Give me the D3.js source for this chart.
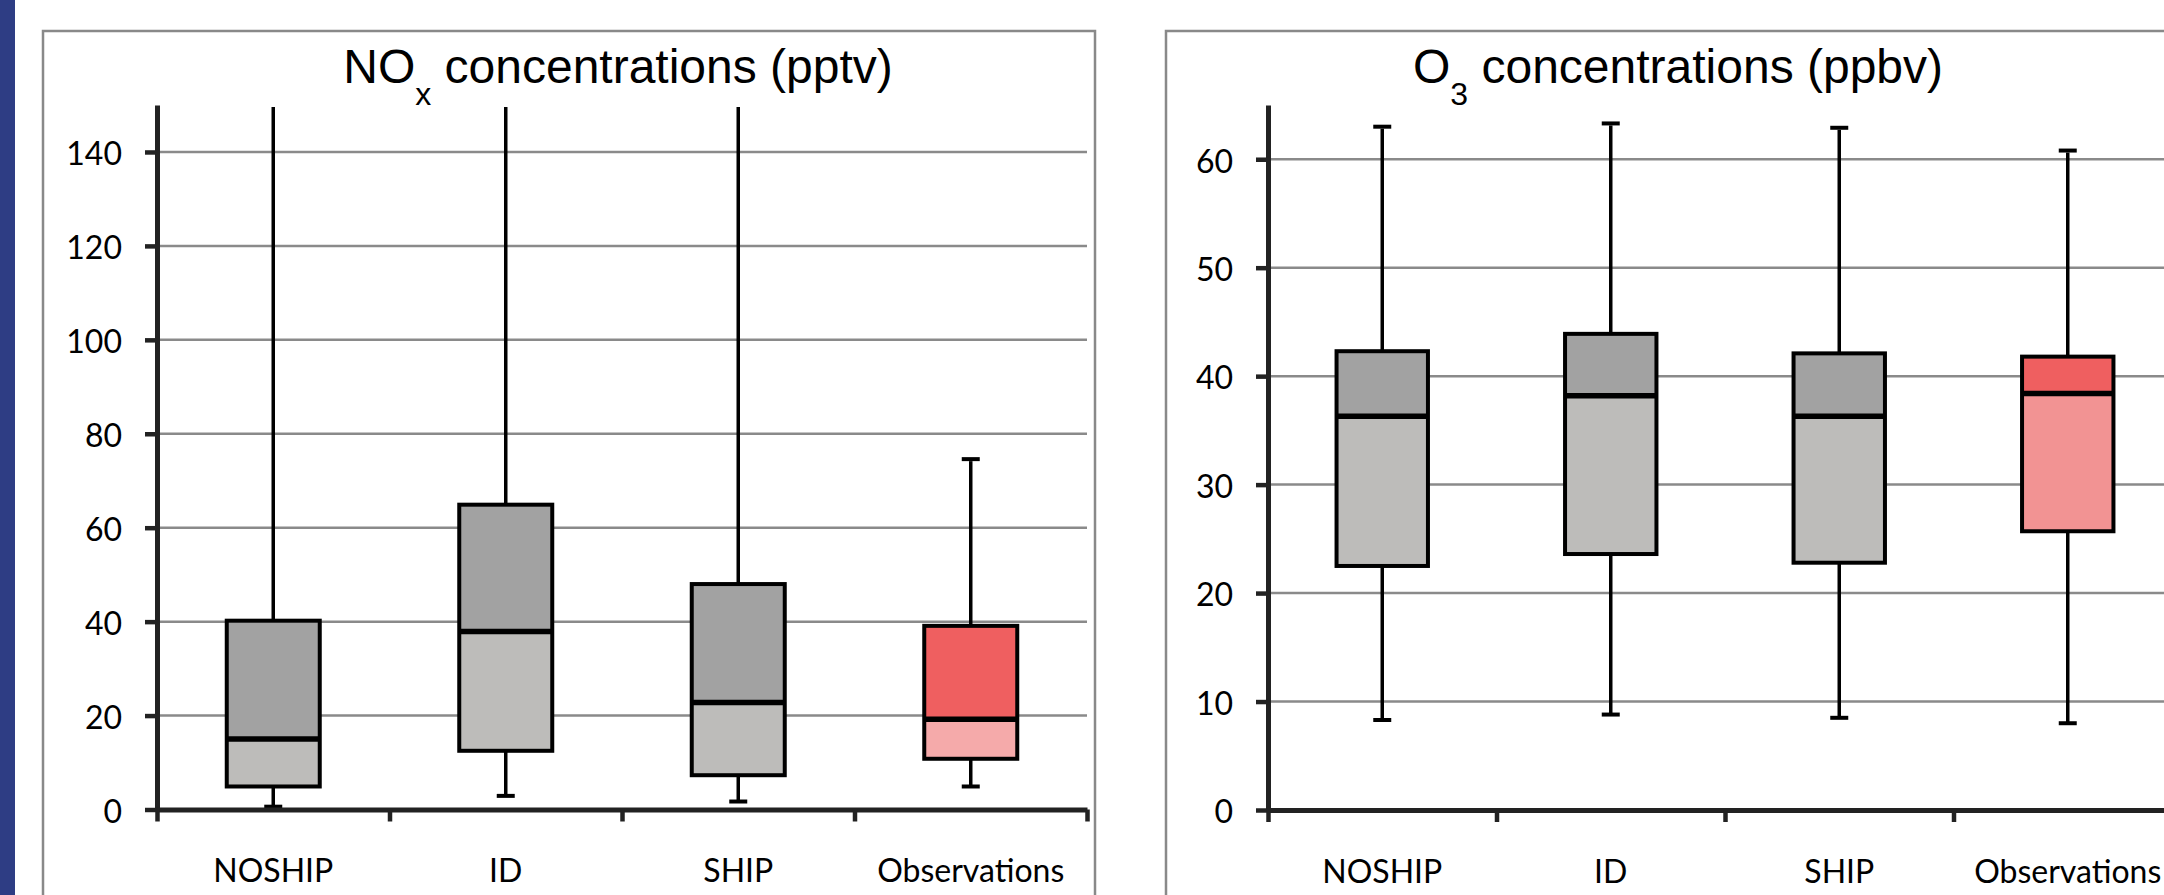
<!DOCTYPE html>
<html lang="en">
<head>
    <meta charset="UTF-8">
    <title>NOx and O3 concentrations</title>
    <style>
        html, body { margin: 0; padding: 0; background: #fff; overflow: hidden; }
    </style>
</head>
<body>

    <div id="d3-container"></div>

    <script src="https://d3js.org/d3.v7.min.js"></script>
    <script>
        // categories shared by both panels
        const categories = ["NOSHIP", "ID", "SHIP", "Observations"];

        // NOx (pptv) – the first three upper whiskers run off the top of the axis
        const noxMin = [0.6, 2.9, 1.7, 4.9];
        const noxQ1 = [4.9, 12.5, 7.3, 10.8];
        const noxMedian = [15.0, 37.9, 22.8, 19.2];
        const noxQ3 = [40.2, 64.9, 48.0, 39.1];
        const noxMax = [160, 160, 160, 74.6];
        const noxTicks = [0, 20, 40, 60, 80, 100, 120, 140];

        // O3 (ppbv)
        const o3Min = [8.3, 8.8, 8.5, 8.0];
        const o3Q1 = [22.5, 23.6, 22.8, 25.7];
        const o3Median = [36.3, 38.2, 36.3, 38.4];
        const o3Q3 = [42.3, 43.9, 42.1, 41.8];
        const o3Max = [63.0, 63.3, 62.9, 60.8];
        const o3Ticks = [0, 10, 20, 30, 40, 50, 60];

        const width = 2164;
        const height = 895;

        const svg = d3.select('#d3-container')
            .append('svg')
            .attr('width', width)
            .attr('height', height)
            .attr('viewBox', [0, 0, width, height]);

        // blue strip on the far left
        svg.append('rect')
            .attr('x', 0).attr('y', 0)
            .attr('width', 15).attr('height', height)
            .attr('fill', '#2e3d84');

        function makeRows(min, q1, med, q3, max) {
            return categories.map((c, i) => ({
                name: c, min: min[i], q1: q1[i], med: med[i], q3: q3[i], max: max[i]
            }));
        }

        function drawPanel(cfg) {
            const g = svg.append('g');

            g.append('rect')
                .attr('x', cfg.box.x).attr('y', cfg.box.y)
                .attr('width', cfg.box.w).attr('height', cfg.box.h)
                .attr('fill', '#fff')
                .attr('stroke', '#898989')
                .attr('stroke-width', 2.5);

            const x = d3.scaleBand()
                .domain(categories)
                .range([cfg.left, cfg.right])
                .padding(0);

            const xEdge = d3.scaleLinear()
                .domain([0, categories.length])
                .range([cfg.left, cfg.right]);

            const y = d3.scaleLinear()
                .domain(cfg.domain)
                .range([cfg.bottom, cfg.top])
                .clamp(true);

            // gridlines
            g.append('g')
                .selectAll('line')
                .data(cfg.ticks.filter(t => t > 0))
                .join('line')
                .attr('x1', cfg.left).attr('x2', cfg.right)
                .attr('y1', d => y(d)).attr('y2', d => y(d))
                .attr('stroke', '#8a8a8a')
                .attr('stroke-width', 2.5);

            // title with subscript
            const title = g.append('text')
                .attr('x', cfg.titleX)
                .attr('y', 83)
                .attr('text-anchor', 'middle')
                .attr('font-family', '"Liberation Sans", Arial, sans-serif')
                .attr('font-size', 48)
                .attr('fill', '#000');
            title.append('tspan').text(cfg.title[0]);
            title.append('tspan').text(cfg.title[1])
                .attr('font-size', 32).attr('dy', 22);
            title.append('tspan').text(cfg.title[2]).attr('dy', -22);

            const rows = cfg.rows;
            const bw = x.bandwidth() * 0.4;
            const cx = d => x(d.name) + x.bandwidth() / 2;
            const capW = 18;

            const boxes = g.append('g');

            // whiskers
            boxes.selectAll('.whisk-up')
                .data(rows)
                .join('line')
                .attr('class', 'whisk-up')
                .attr('x1', cx).attr('x2', cx)
                .attr('y1', d => y(d.q3)).attr('y2', d => y(d.max) + 2)
                .attr('stroke', '#000').attr('stroke-width', 3.5);
            boxes.selectAll('.whisk-down')
                .data(rows)
                .join('line')
                .attr('class', 'whisk-down')
                .attr('x1', cx).attr('x2', cx)
                .attr('y1', d => y(d.q1)).attr('y2', d => y(d.min))
                .attr('stroke', '#000').attr('stroke-width', 3.5);

            // caps (only where the end is on the chart)
            const caps = [];
            rows.forEach(d => {
                caps.push({ name: d.name, v: d.min });
                if (d.max <= cfg.domain[1]) caps.push({ name: d.name, v: d.max });
            });
            boxes.selectAll('.cap')
                .data(caps)
                .join('line')
                .attr('class', 'cap')
                .attr('x1', d => cx(d) - capW / 2).attr('x2', d => cx(d) + capW / 2)
                .attr('y1', d => y(d.v)).attr('y2', d => y(d.v))
                .attr('stroke', '#000').attr('stroke-width', 4);

            // lower half of box
            boxes.selectAll('.lower')
                .data(rows)
                .join('rect')
                .attr('class', 'lower')
                .attr('x', d => cx(d) - bw / 2)
                .attr('y', d => y(d.med))
                .attr('width', bw)
                .attr('height', d => y(d.q1) - y(d.med))
                .attr('fill', (d, i) => i === 3 ? cfg.obsLight : '#bdbcba');

            // upper half of box
            boxes.selectAll('.upper')
                .data(rows)
                .join('rect')
                .attr('class', 'upper')
                .attr('x', d => cx(d) - bw / 2)
                .attr('y', d => y(d.q3))
                .attr('width', bw)
                .attr('height', d => y(d.med) - y(d.q3))
                .attr('fill', (d, i) => i === 3 ? '#ef5f60' : '#a2a2a2');

            boxes.selectAll('.outline')
                .data(rows)
                .join('rect')
                .attr('class', 'outline')
                .attr('x', d => cx(d) - bw / 2)
                .attr('y', d => y(d.q3))
                .attr('width', bw)
                .attr('height', d => y(d.q1) - y(d.q3))
                .attr('fill', 'none')
                .attr('stroke', '#000')
                .attr('stroke-width', 4);

            boxes.selectAll('.median')
                .data(rows)
                .join('line')
                .attr('class', 'median')
                .attr('x1', d => cx(d) - bw / 2).attr('x2', d => cx(d) + bw / 2)
                .attr('y1', d => y(d.med)).attr('y2', d => y(d.med))
                .attr('stroke', '#000').attr('stroke-width', 5.5);

            // y axis
            const yAxis = g.append('g')
                .attr('transform', `translate(${cfg.left},0)`)
                .call(d3.axisLeft(y).tickValues(cfg.ticks).tickSize(12).tickSizeOuter(0).tickPadding(23));
            yAxis.select('.domain').attr('stroke', '#222').attr('stroke-width', 5);
            yAxis.selectAll('.tick line').attr('stroke', '#222').attr('stroke-width', 4.5);
            yAxis.selectAll('.tick text')
                .attr('font-family', 'Lato, "Open Sans", sans-serif')
                .attr('font-size', 32)
                .attr('fill', '#000')
                .attr('dy', '0.4em');

            // x axis: tick marks between categories
            const xTicks = g.append('g')
                .attr('transform', `translate(0,${cfg.bottom})`)
                .call(d3.axisBottom(xEdge).ticks(categories.length).tickSize(12).tickSizeOuter(0).tickFormat(''));
            xTicks.select('.domain').attr('stroke', '#222').attr('stroke-width', 5);
            xTicks.selectAll('.tick line').attr('stroke', '#222').attr('stroke-width', 4.5);

            // x axis labels
            const xLabels = g.append('g')
                .attr('transform', `translate(0,${cfg.bottom})`)
                .call(d3.axisBottom(x).tickSize(0).tickPadding(50));
            xLabels.select('.domain').remove();
            xLabels.selectAll('.tick text')
                .attr('font-family', 'Lato, "Open Sans", sans-serif')
                .attr('font-size', 32)
                .attr('fill', '#000');
        }

        drawPanel({
            box: { x: 43, y: 31, w: 1052, h: 900 },
            left: 157, right: 1087, top: 105, bottom: 809.5,
            domain: [0, 150], ticks: noxTicks,
            title: ['NO', 'x', ' concentrations (pptv)'], titleX: 618,
            obsLight: '#f5aaaa',
            rows: makeRows(noxMin, noxQ1, noxMedian, noxQ3, noxMax)
        });

        drawPanel({
            box: { x: 1166, y: 31, w: 1052, h: 900 },
            left: 1268, right: 2182, top: 105, bottom: 810,
            domain: [0, 65], ticks: o3Ticks,
            title: ['O', '3', ' concentrations (ppbv)'], titleX: 1678,
            obsLight: '#f29393',
            rows: makeRows(o3Min, o3Q1, o3Median, o3Q3, o3Max)
        });
    </script>

</body>
</html>
